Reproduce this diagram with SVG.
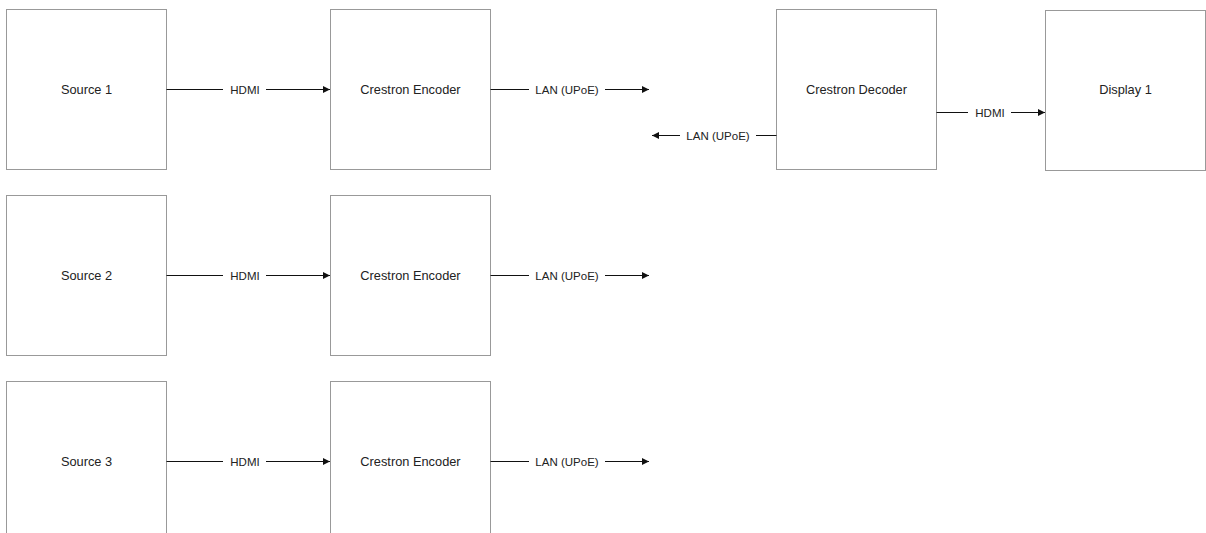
<svg xmlns="http://www.w3.org/2000/svg" width="1206" height="533" viewBox="0 0 1206 533">
<style>
.box{fill:#fff;stroke:#999;stroke-width:1}
.nt{font-family:"Liberation Sans",Arial,sans-serif;font-size:12.8px;fill:#222;text-anchor:middle;dominant-baseline:central}
.el{font-family:"Liberation Sans",Arial,sans-serif;font-size:11.5px;fill:#222;text-anchor:middle;dominant-baseline:central}
.ln{stroke:#111;stroke-width:1;fill:none}
.bg{fill:#fff}
</style>
<defs>
<marker id="ah" viewBox="0 0 10 10" refX="10" refY="5" markerWidth="9" markerHeight="7" markerUnits="userSpaceOnUse" orient="auto">
<path d="M0,0 L10,5 L0,10 z" fill="#111"/>
</marker>
</defs>
<g id="source1"><rect class="box" x="6.5" y="9.5" width="160" height="160"/><text class="nt" x="86.5" y="89.5">Source 1</text></g>
<g id="encoder1"><rect class="box" x="330.5" y="9.5" width="160" height="160"/><text class="nt" x="410.5" y="89.5">Crestron Encoder</text></g>
<g id="decoder1"><rect class="box" x="776.5" y="9.5" width="160" height="160"/><text class="nt" x="856.5" y="89.5">Crestron Decoder</text></g>
<g id="display1"><rect class="box" x="1045.5" y="10.5" width="160" height="160"/><text class="nt" x="1125.5" y="89.5">Display 1</text></g>
<g id="source2"><rect class="box" x="6.5" y="195.5" width="160" height="160"/><text class="nt" x="86.5" y="275.5">Source 2</text></g>
<g id="encoder2"><rect class="box" x="330.5" y="195.5" width="160" height="160"/><text class="nt" x="410.5" y="275.5">Crestron Encoder</text></g>
<g id="source3"><rect class="box" x="6.5" y="381.5" width="160" height="160"/><text class="nt" x="86.5" y="461.5">Source 3</text></g>
<g id="encoder3"><rect class="box" x="330.5" y="381.5" width="160" height="160"/><text class="nt" x="410.5" y="461.5">Crestron Encoder</text></g>
<g id="connectors">
<g><path class="ln" d="M166.5,89.5 H330" marker-end="url(#ah)"/><rect class="bg" x="223" y="82" width="43" height="15"/><text class="el" x="245" y="89.5">HDMI</text></g>
<g><path class="ln" d="M490.5,89.5 H649" marker-end="url(#ah)"/><rect class="bg" x="529" y="82" width="76" height="15"/><text class="el" x="567" y="89.5">LAN (UPoE)</text></g>
<g><path class="ln" d="M166.5,275.5 H330" marker-end="url(#ah)"/><rect class="bg" x="223" y="268" width="43" height="15"/><text class="el" x="245" y="275.5">HDMI</text></g>
<g><path class="ln" d="M490.5,275.5 H649" marker-end="url(#ah)"/><rect class="bg" x="529" y="268" width="76" height="15"/><text class="el" x="567" y="275.5">LAN (UPoE)</text></g>
<g><path class="ln" d="M166.5,461.5 H330" marker-end="url(#ah)"/><rect class="bg" x="223" y="454" width="43" height="15"/><text class="el" x="245" y="461.5">HDMI</text></g>
<g><path class="ln" d="M490.5,461.5 H649" marker-end="url(#ah)"/><rect class="bg" x="529" y="454" width="76" height="15"/><text class="el" x="567" y="461.5">LAN (UPoE)</text></g>
<g><path class="ln" d="M776.5,135.5 H652" marker-end="url(#ah)"/><rect class="bg" x="680" y="128" width="76" height="15"/><text class="el" x="718" y="135.5">LAN (UPoE)</text></g>
<g><path class="ln" d="M936.5,112.5 H1045" marker-end="url(#ah)"/><rect class="bg" x="968" y="105" width="43" height="15"/><text class="el" x="990" y="112.5">HDMI</text></g>
</g>
</svg>
